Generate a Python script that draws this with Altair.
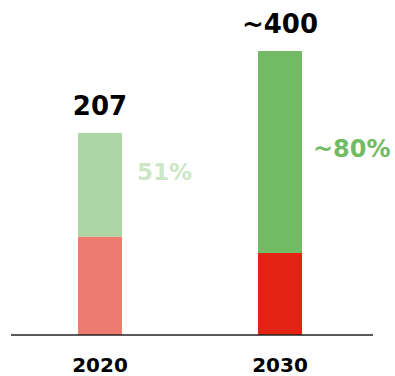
import altair as alt
import pandas as pd

years = ["2020", "2030"]
red_values = [101, 84]
green_values = [106, 207]
total_labels = ["207", "~400"]
share_labels = ["51%", "~80%"]

red_colors = ["#EE7B70", "#E32415"]
green_colors = ["#ACD6A3", "#72BA63"]
share_colors = ["#CDE6C6", "#72BA63"]

rows = []
for i, y in enumerate(years):
    rows.append({"year": y, "part": "red", "y0": 0, "y1": red_values[i], "color": red_colors[i]})
    rows.append({"year": y, "part": "green", "y0": red_values[i], "y1": red_values[i] + green_values[i], "color": green_colors[i]})
bars = pd.DataFrame(rows)

labels = pd.DataFrame({
    "year": years,
    "base": [0, 0],
    "top": [r + g for r, g in zip(red_values, green_values)],
    "mid": [r + g / 2 for r, g in zip(red_values, green_values)],
    "total": total_labels,
    "share": share_labels,
    "scolor": share_colors,
})

FONT = "DejaVu Sans"

xs = alt.Scale(domain=years, paddingInner=0, paddingOuter=0.0972, align=0.2857)
ys = alt.Scale(domain=[-42.0, 343.3], nice=False, zero=False)

x = alt.X("year:N", scale=xs, axis=None)

bar_layer = alt.Chart(bars).mark_bar(size=44).encode(
    x=x,
    y=alt.Y("y0:Q", scale=ys, axis=None),
    y2="y1:Q",
    color=alt.Color("color:N", scale=None),
)

axis_line = alt.Chart(labels).mark_rule(color="#222222", strokeWidth=1.2).encode(
    x=alt.value(11), x2=alt.value(373), y=alt.Y("base:Q", scale=ys, axis=None)
)

year_text = alt.Chart(labels).mark_text(
    font=FONT, fontWeight="bold", fontSize=20, baseline="alphabetic", dy=37, color="#000000"
).encode(x=x, y=alt.Y("base:Q", scale=ys, axis=None), text="year:N")

total_text = alt.Chart(labels).mark_text(
    font=FONT, fontWeight="bold", fontSize=26, baseline="alphabetic", dy=-18, color="#000000"
).encode(x=x, y=alt.Y("top:Q", scale=ys, axis=None), text="total:N")

share_2020 = alt.Chart(labels).transform_filter(alt.datum.year == "2020").mark_text(
    font=FONT, fontWeight="bold", fontSize=23, baseline="middle", align="left", dx=37, dy=-12
).encode(x=x, y=alt.Y("mid:Q", scale=ys, axis=None), text="share:N",
         color=alt.Color("scolor:N", scale=None))

share_2030 = alt.Chart(labels).transform_filter(alt.datum.year == "2030").mark_text(
    font=FONT, fontWeight="bold", fontSize=24, baseline="middle", align="left", dx=33, dy=-2
).encode(x=x, y=alt.Y("mid:Q", scale=ys, axis=None), text="share:N",
         color=alt.Color("scolor:N", scale=None))

chart = alt.layer(bar_layer, axis_line, year_text, total_text, share_2020, share_2030).properties(
    width=395, height=376, autosize=alt.AutoSizeParams(type="none"), padding=0,
    background="white"
).configure_view(stroke=None, strokeWidth=0)

chart.save("out.html", embed_options={"renderer": "svg", "actions": False})
